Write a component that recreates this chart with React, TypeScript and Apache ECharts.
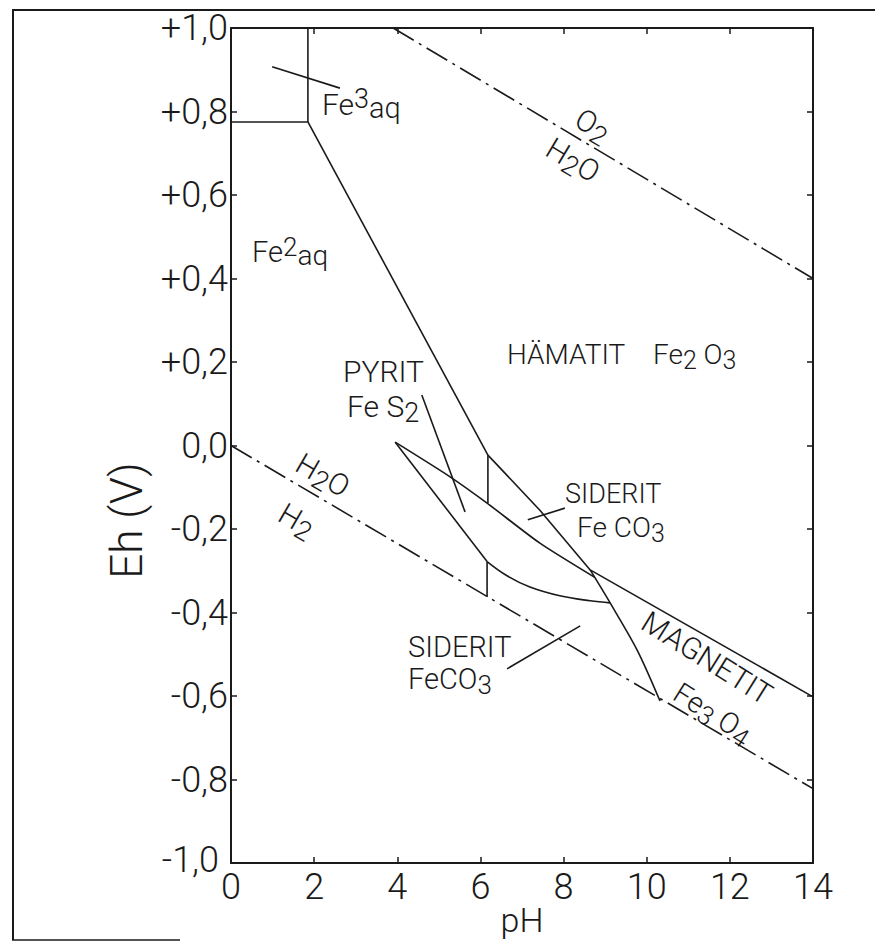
import React, { useEffect, useRef } from "react";
import * as echarts from "echarts";

// ---------- data: points are [pH, Eh (V)] ----------
const phMin = 0;
const phMax = 14;
const phStep = 2;
const ehMin = -1;
const ehMax = 1;
const ehStep = 0.2;

const o2H2oLine = [[3.9, 1.0], [14, 0.4]];
const h2oH2Line = [[0, 0], [14, -0.822]];
const fe3Fe2Line = [[0, 0.775], [1.85, 0.775]];
const fe3HematitLine = [[1.85, 0.775], [1.85, 1.0]];
const fe2HematitLine = [[1.85, 0.775], [6.18, -0.023]];
const sideritHematitLine = [[6.18, -0.023], [7.43, -0.155], [8.64, -0.298]];
const sideritMagnetitLine = [[8.64, -0.298], [9.12, -0.377], [9.77, -0.49], [10.32, -0.612]];
const hematitMagnetitLine = [[8.64, -0.298], [14, -0.602]];
const pyritUpperLine = [[3.95, 0.008], [5.27, -0.075], [6.16, -0.138], [7.43, -0.234], [8.75, -0.316]];
const pyritLowerStraight = [[3.95, 0.008], [6.16, -0.278]];
const pyritLowerArc = [[6.16, -0.278], [6.64, -0.312], [7.19, -0.339], [7.91, -0.36], [8.64, -0.372], [9.12, -0.377]];
const sideritUpperWall = [[6.18, -0.023], [6.18, -0.138]];
const sideritLowerWall = [[6.16, -0.278], [6.16, -0.363]];
const fe3Leader = [[0.99, 0.907], [2.62, 0.856]];
const pyritLeader = [[4.59, 0.121], [5.63, -0.159]];
const sideritUpperLeader = [[7.14, -0.178], [8.03, -0.15]];
const sideritLowerLeader = [[6.64, -0.535], [8.4, -0.432]];

// ---------- styles ----------
const INK = "#1a1a1a";
const FONT = "Roboto, 'Open Sans', sans-serif";
const W = 300;

const fmtEh = (v: number) => {
  const s = Math.abs(v).toFixed(1).replace(".", ",");
  if (v > 0.001) return "+" + s;
  if (v < -0.001) return v < -0.999 ? "{edge|-" + s + "}" : "-" + s;
  return "0,0";
};

const richFor = (s: number) => ({
  sub: { fontSize: Math.round(s * 0.9), fontFamily: FONT, fontWeight: W, fill: INK, color: INK, padding: [Math.round(s * 0.42), 0, 0, 0] },
  sup: { fontSize: Math.round(s * 0.9), fontFamily: FONT, fontWeight: W, fill: INK, color: INK, padding: [0, 0, Math.round(s * 0.36), 0] },
  low: { fontSize: Math.round(s * 0.95), fontFamily: FONT, fontWeight: W, fill: INK, color: INK, padding: [Math.round(s * 0.22), 0, 0, 0] },
});

const txt = (x: number, y: number, text: string, size: number, rot = 0, align = "left") => ({
  type: "text",
  x,
  y,
  rotation: (rot * Math.PI) / 180,
  silent: true,
  z: 10,
  style: {
    text,
    fill: INK,
    fontSize: size,
    fontFamily: FONT,
    fontWeight: W,
    align,
    textAlign: align,
    verticalAlign: "middle",
    textVerticalAlign: "middle",
    rich: richFor(size),
  },
});

const solid = (name: string, data: number[][], smooth: number | boolean = false) => ({
  type: "line",
  name,
  data,
  symbol: "none",
  showSymbol: false,
  smooth,
  silent: true,
  z: 3,
  lineStyle: { color: INK, width: 1.6 },
});

const dashDot = (name: string, data: number[][]) => ({
  type: "line",
  name,
  data,
  symbol: "none",
  showSymbol: false,
  silent: true,
  z: 3,
  lineStyle: { color: INK, width: 1.6, type: [24, 6, 3, 6] },
});

export default function App() {
  const ref = useRef<HTMLDivElement>(null);

  useEffect(() => {
    if (!ref.current) return;
    const chart = echarts.init(ref.current, undefined, { renderer: "svg" });

    const baseX = {
      type: "value",
      min: phMin,
      max: phMax,
      interval: phStep,
      splitLine: { show: false },
      axisLine: { show: true, onZero: false, lineStyle: { color: INK, width: 2 } },
      axisTick: { show: true, inside: true, length: 6, lineStyle: { color: INK, width: 1.5 } },
    };
    const baseY = {
      type: "value",
      min: ehMin,
      max: ehMax,
      interval: ehStep,
      splitLine: { show: false },
      axisLine: { show: true, onZero: false, lineStyle: { color: INK, width: 2 } },
      axisTick: { show: true, inside: true, length: 6, lineStyle: { color: INK, width: 1.5 } },
    };

    chart.setOption({
      animation: false,
      backgroundColor: "#ffffff",
      grid: { left: 231, top: 28, right: 62, bottom: 84, containLabel: false },
      xAxis: [
        {
          ...baseX,
          position: "bottom",
          axisLabel: { show: true, fontSize: 36, fontFamily: FONT, fontWeight: W, color: INK, margin: 6 },
          name: "pH",
          nameLocation: "middle",
          nameGap: 40,
          nameMoveOverlap: false,
          nameTextStyle: { fontSize: 34, fontFamily: FONT, fontWeight: W, color: INK },
        },
        { ...baseX, position: "top", axisLabel: { show: false } },
      ],
      yAxis: [
        {
          ...baseY,
          position: "left",
          axisLabel: {
            show: true,
            fontSize: 36,
            fontFamily: FONT,
            fontWeight: W,
            color: INK,
            margin: 3,
            formatter: fmtEh,
            rich: {
              edge: { fontSize: 36, fontFamily: FONT, fontWeight: W, color: INK, padding: [0, 9, 6, 0] },
            },
          },
          name: "Eh (V)",
          nameLocation: "middle",
          nameRotate: 90,
          nameGap: 82,
          nameMoveOverlap: false,
          nameTextStyle: { fontSize: 44, fontFamily: FONT, fontWeight: W, color: INK, padding: [0, 150, 0, 0] },
        },
        { ...baseY, position: "right", axisLabel: { show: false } },
      ],
      series: [
        dashDot("O2 / H2O", o2H2oLine),
        dashDot("H2O / H2", h2oH2Line),
        solid("Fe3 / Fe2", fe3Fe2Line),
        solid("Fe3 / Hämatit", fe3HematitLine),
        solid("Fe2 / Hämatit", fe2HematitLine),
        solid("Siderit / Hämatit", sideritHematitLine),
        solid("Siderit / Magnetit", sideritMagnetitLine, 0.3),
        solid("Hämatit / Magnetit", hematitMagnetitLine),
        solid("Pyrit oben", pyritUpperLine, 0.2),
        solid("Pyrit unten", pyritLowerStraight),
        solid("Pyrit Bogen", pyritLowerArc, 0.4),
        solid("Siderit Grenze oben", sideritUpperWall),
        solid("Siderit Grenze unten", sideritLowerWall),
        solid("Fe3 Hinweis", fe3Leader),
        solid("Pyrit Hinweis", pyritLeader),
        solid("Siderit Hinweis oben", sideritUpperLeader),
        solid("Siderit Hinweis unten", sideritLowerLeader),
      ],
      graphic: [
        { type: "line", silent: true, shape: { x1: 12, y1: 10, x2: 875, y2: 10 }, style: { stroke: INK, lineWidth: 2 } },
        { type: "line", silent: true, shape: { x1: 13, y1: 10, x2: 13, y2: 940 }, style: { stroke: INK, lineWidth: 2 } },
        { type: "line", silent: true, shape: { x1: 12, y1: 940, x2: 180, y2: 940 }, style: { stroke: INK, lineWidth: 1.5 } },
        txt(322, 104, "Fe{sup|3}{low|aq}", 30),
        txt(252, 252, "Fe{sup|2}{low|aq}", 29),
        txt(593, 125, "O{sub|2}", 30, -31, "center"),
        txt(573, 160, "H{sub|2}O", 30, -31, "center"),
        txt(507, 354, "HÄMATIT", 28),
        txt(653, 354, "Fe{sub|2} O{sub|3}", 28),
        txt(343, 371, "PYRIT", 30),
        txt(347, 406, "Fe S{sub|2}", 30),
        txt(565, 494, "SIDERIT", 27),
        txt(577, 527, "Fe CO{sub|3}", 28),
        txt(408, 647, "SIDERIT", 29),
        txt(408, 679, "FeCO{sub|3}", 29),
        txt(707, 658, "MAGNETIT", 30, -32, "center"),
        txt(713, 713, "Fe{sub|3} O{sub|4}", 29, -32, "center"),
        txt(323, 475, "H{sub|2}O", 30, -30, "center"),
        txt(297, 520, "H{sub|2}", 30, -30, "center"),
      ],
    });

    return () => chart.dispose();
  }, []);

  return (
    <div
      ref={ref}
      style={{ position: "absolute", left: 0, top: 0, width: 875, height: 947, background: "#fff" }}
    />
  );
}
